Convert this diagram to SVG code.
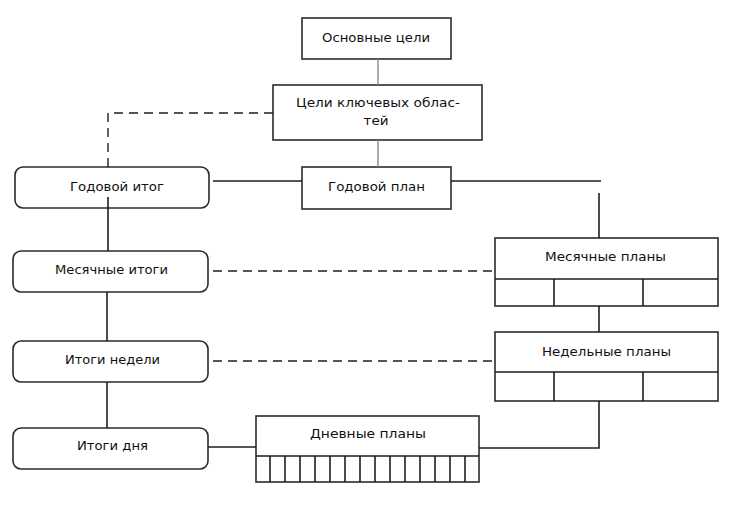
<svg xmlns="http://www.w3.org/2000/svg" width="732" height="508" viewBox="0 0 732 508">
<style>
.bx{fill:#fff;stroke:#2b2b2b;stroke-width:1.6}
.ln{fill:none;stroke:#1e1e1e;stroke-width:1.6}
.gl{fill:none;stroke:#8a8a8a;stroke-width:1.4}
.ds{fill:none;stroke:#1e1e1e;stroke-width:1.4;stroke-dasharray:9,6}
.t{font-family:"DejaVu Sans","Liberation Sans",sans-serif;font-size:12px;fill:#111;text-anchor:middle}
</style>
<rect width="732" height="508" fill="#fff"/>
<g id="osnovnye-tseli">
<rect class="bx" x="302" y="18" width="149" height="41"/>
<text class="t" x="376" y="42" textLength="108" lengthAdjust="spacingAndGlyphs">Основные цели</text>
</g>
<g id="tseli-klyuchevyh">
<rect class="bx" x="273" y="85" width="209" height="55"/>
<text class="t" x="378" y="107" textLength="164" lengthAdjust="spacingAndGlyphs">Цели ключевых облас-</text>
<text class="t" x="376" y="125" textLength="25" lengthAdjust="spacingAndGlyphs">тей</text>
</g>
<g id="godovoy-plan">
<rect class="bx" x="302" y="167" width="149" height="42"/>
<text class="t" x="376.5" y="191" textLength="97" lengthAdjust="spacingAndGlyphs">Годовой план</text>
</g>
<g id="godovoy-itog">
<rect class="bx" x="15" y="167" width="194" height="41" rx="8"/>
<text class="t" x="117" y="191" textLength="94" lengthAdjust="spacingAndGlyphs">Годовой итог</text>
</g>
<g id="mesyachnye-itogi">
<rect class="bx" x="13" y="251" width="195" height="41" rx="8"/>
<text class="t" x="111.5" y="274" textLength="113" lengthAdjust="spacingAndGlyphs">Месячные итоги</text>
</g>
<g id="itogi-nedeli">
<rect class="bx" x="13" y="341" width="195" height="41" rx="8"/>
<text class="t" x="112.5" y="364" textLength="95" lengthAdjust="spacingAndGlyphs">Итоги недели</text>
</g>
<g id="itogi-dnya">
<rect class="bx" x="13" y="428" width="195" height="41" rx="8"/>
<text class="t" x="112.5" y="450" textLength="71" lengthAdjust="spacingAndGlyphs">Итоги дня</text>
</g>
<g id="mesyachnye-plany">
<rect class="bx" x="495" y="238" width="223" height="68"/>
<path class="ln" d="M495 279H718M554 279V306M643 279V306"/>
<text class="t" x="605.5" y="261" textLength="121" lengthAdjust="spacingAndGlyphs">Месячные планы</text>
</g>
<g id="nedelnye-plany">
<rect class="bx" x="495" y="332" width="223" height="69"/>
<path class="ln" d="M495 372H718M554 372V401M643 372V401"/>
<text class="t" x="606.5" y="356" textLength="129" lengthAdjust="spacingAndGlyphs">Недельные планы</text>
</g>
<g id="dnevnye-plany">
<rect class="bx" x="256" y="416" width="223" height="66"/>
<path class="ln" d="M256 456H479M270 456V482M285 456V482M300 456V482M315 456V482M330 456V482M345 456V482M360 456V482M375 456V482M390 456V482M405 456V482M420 456V482M435 456V482M450 456V482M465 456V482"/>
<text class="t" x="368" y="438" textLength="116" lengthAdjust="spacingAndGlyphs">Дневные планы</text>
</g>
<g id="connectors">
<line class="gl" x1="378" y1="59" x2="378" y2="85"/>
<line class="gl" x1="378" y1="140" x2="378" y2="167"/>
<polyline class="ds" points="273,113 108,113 108,173"/>
<line class="ln" x1="213" y1="181" x2="302" y2="181"/>
<line class="ln" x1="451" y1="181" x2="601" y2="181"/>
<line class="ln" x1="599" y1="193" x2="599" y2="238"/>
<line class="ln" x1="108" y1="197" x2="108" y2="251"/>
<line class="ln" x1="107" y1="292" x2="107" y2="341"/>
<line class="ln" x1="107" y1="382" x2="107" y2="428"/>
<line class="ds" x1="213" y1="271" x2="495" y2="271"/>
<line class="ds" x1="213" y1="361" x2="495" y2="361"/>
<line class="ln" x1="599" y1="306" x2="599" y2="332"/>
<polyline class="ln" points="599,401 599,448 479,448"/>
<line class="ln" x1="208" y1="447" x2="256" y2="447"/>
</g>
</svg>
